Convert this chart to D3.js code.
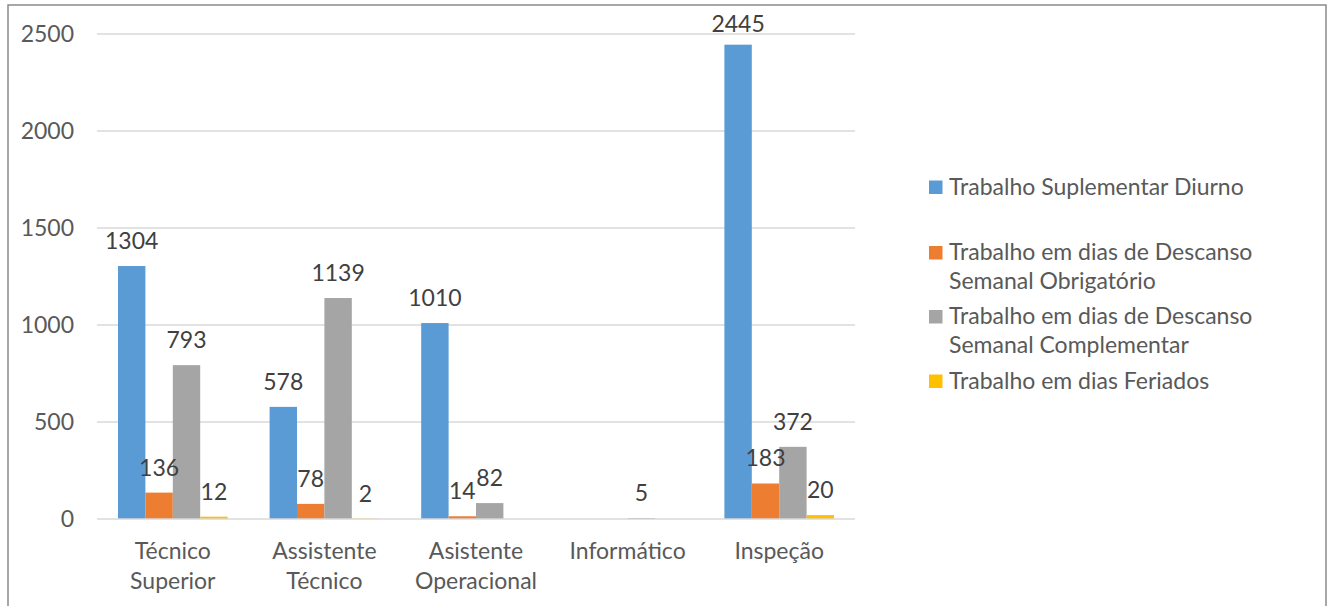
<!DOCTYPE html>
<html>
<head>
<meta charset="utf-8">
<script src="https://cdn.jsdelivr.net/npm/d3@7"></script>
<style>
  html, body { margin: 0; padding: 0; background: #fff; }
  svg { display: block; font-family: Lato, "Open Sans", sans-serif; }
</style>
</head>
<body>
<svg id="chart" width="1327" height="606"></svg>
<script>
// Categories (x axis), each label split over lines
const categories = ["Técnico Superior", "Assistente Técnico", "Asistente Operacional", "Informático", "Inspeção"];
const categoryLines = [["Técnico", "Superior"], ["Assistente", "Técnico"], ["Asistente", "Operacional"], ["Informático"], ["Inspeção"]];

// Series names (legend), each split over lines
const seriesNames = [
  "Trabalho Suplementar Diurno",
  "Trabalho em dias de Descanso Semanal Obrigatório",
  "Trabalho em dias de Descanso Semanal Complementar",
  "Trabalho em dias Feriados"
];
const seriesLines = [
  ["Trabalho Suplementar Diurno"],
  ["Trabalho em dias de Descanso", "Semanal Obrigatório"],
  ["Trabalho em dias de Descanso", "Semanal Complementar"],
  ["Trabalho em dias Feriados"]
];
const seriesColors = ["#5B9BD5", "#ED7D31", "#A5A5A5", "#FFC000"];

// Values per series (null = no entry)
const diurno       = [1304, 578, 1010, null, 2445];
const obrigatorio  = [136, 78, 14, null, 183];
const complementar = [793, 1139, 82, 5, 372];
const feriados     = [12, 2, null, null, 20];
const seriesValues = [diurno, obrigatorio, complementar, feriados];

// Y axis ticks
const yTicks = [0, 500, 1000, 1500, 2000, 2500];

const svg = d3.select("#chart");
const plot = { left: 97, right: 855, top: 34, bottom: 519 };
const fontSize = 23;

// Outer frame
svg.append("rect")
  .attr("x", 8).attr("y", 5)
  .attr("width", 1318).attr("height", 620)
  .attr("fill", "none")
  .attr("stroke", "#8a8a8a")
  .attr("stroke-width", 1.5);

const y = d3.scaleLinear().domain([0, 2500]).range([plot.bottom, plot.top]);
const x0 = d3.scaleBand().domain(categories).range([plot.left, plot.right]).paddingInner(0).paddingOuter(0);
const x1 = d3.scaleBand().domain(d3.range(seriesNames.length))
  .range([0, x0.bandwidth()]).paddingInner(0).paddingOuter(0.766);

// Gridlines
svg.append("g").selectAll("line").data(yTicks.filter(d => d > 0)).join("line")
  .attr("x1", plot.left).attr("x2", plot.right)
  .attr("y1", d => y(d)).attr("y2", d => y(d))
  .attr("stroke", "#d9d9d9").attr("stroke-width", 1.3);

// Y axis labels
const yAxis = d3.axisLeft(y).tickValues(yTicks).tickSize(0).tickPadding(0).tickFormat(d3.format("d"));
const yg = svg.append("g").attr("transform", "translate(74,0)").call(yAxis);
yg.select(".domain").remove();
yg.selectAll("text")
  .attr("fill", "#595959")
  .attr("font-size", fontSize)
  .attr("font-family", "Lato, sans-serif");

// Bars
const rows = categories.map((c, i) => ({ c, vals: seriesValues.map(s => s[i]) }));
const groups = svg.append("g").selectAll("g").data(rows).join("g")
  .attr("transform", d => `translate(${x0(d.c)},0)`);

groups.selectAll("rect")
  .data(d => d.vals.map((v, k) => ({ v, k })).filter(e => e.v !== null))
  .join("rect")
  .attr("x", e => x1(e.k))
  .attr("width", x1.bandwidth())
  .attr("y", e => y(e.v))
  .attr("height", e => y(0) - y(e.v))
  .attr("fill", e => seriesColors[e.k]);

// Value labels above bars, kept inside the chart area
groups.selectAll("text.val")
  .data(d => d.vals.map((v, k) => ({ v, k })).filter(e => e.v !== null))
  .join("text")
  .attr("class", "val")
  .attr("x", e => x1(e.k) + x1.bandwidth() / 2)
  .attr("y", e => Math.max(y(e.v) - 17, 32))
  .attr("text-anchor", "middle")
  .attr("fill", "#404040")
  .attr("font-size", fontSize)
  .text(e => e.v);

// Baseline
svg.append("line")
  .attr("x1", plot.left).attr("x2", plot.right)
  .attr("y1", y(0)).attr("y2", y(0))
  .attr("stroke", "#d9d9d9").attr("stroke-width", 1.3);

// X axis labels
const xl = svg.append("g").selectAll("text").data(categories).join("text")
  .attr("x", d => x0(d) + x0.bandwidth() / 2)
  .attr("y", 559)
  .attr("text-anchor", "middle")
  .attr("fill", "#595959")
  .attr("font-size", fontSize);
xl.selectAll("tspan").data((d, i) => categoryLines[i]).join("tspan")
  .attr("x", function () { return d3.select(this.parentNode).attr("x"); })
  .attr("dy", (d, j) => j === 0 ? 0 : 30)
  .text(d => d);

// Legend
const legendY = [187, 252.5, 316.5, 381];
const leg = svg.append("g").selectAll("g").data(seriesNames).join("g")
  .attr("transform", (d, i) => `translate(929,${legendY[i]})`);
leg.append("rect")
  .attr("x", 0).attr("y", -6.5).attr("width", 13.5).attr("height", 13.5)
  .attr("fill", (d, i) => seriesColors[i]);
leg.append("text")
  .attr("x", 20).attr("y", 7.5)
  .attr("fill", "#595959")
  .attr("font-size", fontSize)
  .selectAll("tspan").data((d, i) => seriesLines[i]).join("tspan")
  .attr("x", 20)
  .attr("dy", (d, j) => j === 0 ? 0 : 29)
  .text(d => d);
</script>
</body>
</html>
